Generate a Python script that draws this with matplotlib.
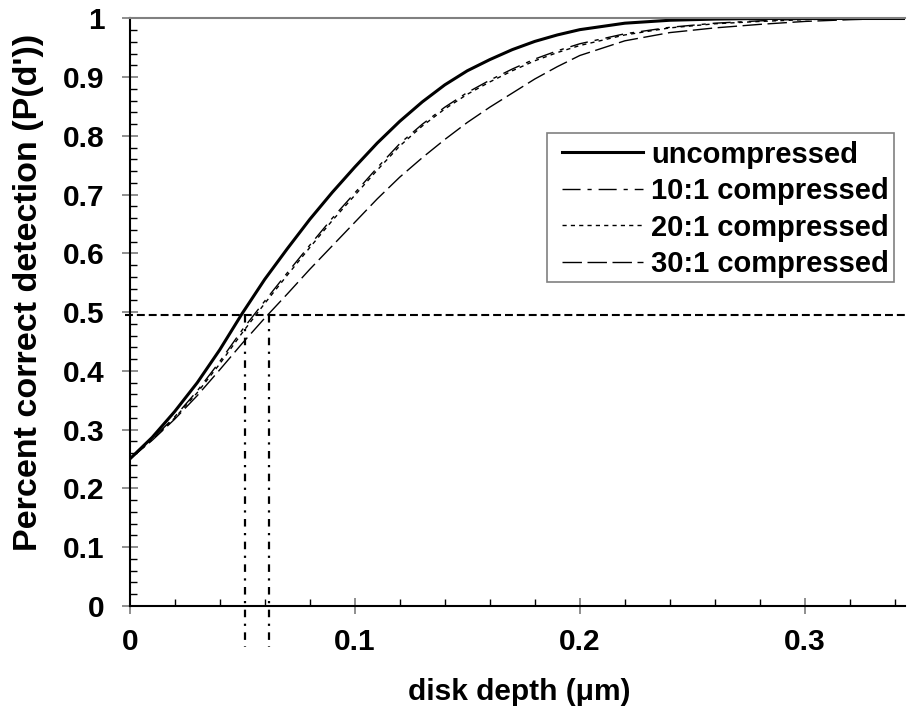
import matplotlib
matplotlib.use('Agg')
import matplotlib.pyplot as plt
from matplotlib.patches import Rectangle
from matplotlib.ticker import MultipleLocator

plt.rcParams['font.family'] = ['Liberation Sans', 'DejaVu Sans']
plt.rcParams['font.weight'] = 'bold'

# ---- data ----
depth = [0.00, 0.01, 0.02, 0.03, 0.04, 0.05, 0.06, 0.07, 0.08, 0.09, 0.10,
         0.11, 0.12, 0.13, 0.14, 0.15, 0.16, 0.17, 0.18, 0.19, 0.20,
         0.22, 0.24, 0.26, 0.28, 0.30, 0.32, 0.34, 0.35]
uncompressed = [0.250, 0.287, 0.331, 0.380, 0.436, 0.498, 0.556, 0.608, 0.658, 0.704, 0.747,
                0.788, 0.825, 0.858, 0.887, 0.911, 0.930, 0.947, 0.961, 0.972, 0.981,
                0.992, 0.997, 0.999, 1.000, 1.000, 1.000, 1.000, 1.000]
comp10 = [0.250, 0.284, 0.322, 0.366, 0.416, 0.470, 0.519, 0.567, 0.614, 0.660, 0.703,
          0.746, 0.787, 0.820, 0.849, 0.874, 0.895, 0.914, 0.931, 0.945, 0.957,
          0.974, 0.985, 0.992, 0.996, 0.999, 1.000, 1.000, 1.000]
comp20 = [0.250, 0.283, 0.320, 0.363, 0.412, 0.465, 0.515, 0.563, 0.610, 0.656, 0.699,
          0.742, 0.783, 0.817, 0.846, 0.871, 0.892, 0.911, 0.928, 0.942, 0.954,
          0.972, 0.984, 0.991, 0.995, 0.998, 1.000, 1.000, 1.000]
comp30 = [0.250, 0.282, 0.318, 0.358, 0.402, 0.447, 0.490, 0.531, 0.573, 0.613, 0.653,
          0.693, 0.730, 0.763, 0.794, 0.823, 0.849, 0.873, 0.897, 0.918, 0.937,
          0.962, 0.976, 0.984, 0.990, 0.995, 0.998, 1.000, 1.000]
series_labels = ['uncompressed', '10:1 compressed', '20:1 compressed', '30:1 compressed']
threshold_level = 0.495
threshold_depths = [0.0511, 0.0618]
xticks = [0.0, 0.1, 0.2, 0.3]
xtick_labels = ['0', '0.1', '0.2', '0.3']
yticks = [0.0, 0.1, 0.2, 0.3, 0.4, 0.5, 0.6, 0.7, 0.8, 0.9, 1.0]
ytick_labels = ['0', '0.1', '0.2', '0.3', '0.4', '0.5', '0.6', '0.7', '0.8', '0.9', '1']
xlabel = 'disk depth (μm)'
ylabel = "Percent correct detection (P(d'))"

FS = 21.5

fig = plt.figure(figsize=(9.07, 7.14), dpi=100)
ax = fig.add_axes([0.143, 0.1513, 0.8548, 0.8228])
ax.set_xlim(0, 0.3445)
ax.set_ylim(0, 1)

styles = [dict(lw=2.2, linestyle='-'),
          dict(lw=1.0, linestyle=(0, (13, 5, 3, 5))),
          dict(lw=1.0, linestyle=(0, (3, 3))),
          dict(lw=1.0, linestyle=(0, (14, 4)))]
for ys, lab, st in zip([uncompressed, comp10, comp20, comp30], series_labels, styles):
    ax.plot(depth, ys, color='black', label=lab, **st)

# threshold lines
ax.plot([-0.002, 0.3445], [threshold_level, threshold_level], color='black', lw=1.5,
        linestyle=(0, (3.8, 1.9)), clip_on=False)
for xv in threshold_depths:
    ax.plot([xv, xv], [threshold_level, -0.07], color='black', lw=1.6,
            linestyle=(0, (3.4, 2.9, 1, 2.9)), clip_on=False)

ax.set_xticks(xticks)
ax.set_xticklabels(xtick_labels)
ax.set_yticks(yticks)
ax.set_yticklabels(ytick_labels)
ax.xaxis.set_minor_locator(MultipleLocator(0.02))
ax.yaxis.set_minor_locator(MultipleLocator(0.02))
ax.tick_params(which='major', direction='inout', length=12, width=1.1, color='#707070',
               labelsize=FS)
ax.tick_params(axis='y', which='major', pad=12)
ax.tick_params(axis='x', which='major', pad=10)
ax.tick_params(which='minor', direction='in', length=5, width=1, color='black')
for t in ax.get_xticklabels() + ax.get_yticklabels():
    t.set_fontweight('bold')

ax.spines['right'].set_visible(False)
ax.spines['top'].set_color('#808080')
ax.spines['top'].set_linewidth(1.5)
ax.spines['left'].set_linewidth(1.5)
ax.spines['bottom'].set_linewidth(1.5)

ax.set_xlabel(xlabel, fontsize=FS, fontweight='bold')
ax.set_ylabel(ylabel, fontsize=24.5, fontweight='bold')
ax.xaxis.set_label_coords(0.503, -0.122)
ax.yaxis.set_label_coords(-0.110, 0.534)

leg = ax.legend(loc='upper left', bbox_to_anchor=(0.557, 0.792), frameon=False,
                fontsize=21, handlelength=2.8, handletextpad=0.28, labelspacing=0.29,
                borderpad=0, borderaxespad=0)
for t in leg.get_texts():
    t.set_fontweight('bold')
ax.add_patch(Rectangle((0.538, 0.551), 0.448, 0.254, transform=ax.transAxes,
                       fill=False, edgecolor='#808080', lw=1.2, zorder=5))

fig.savefig('out.png', dpi=100)
